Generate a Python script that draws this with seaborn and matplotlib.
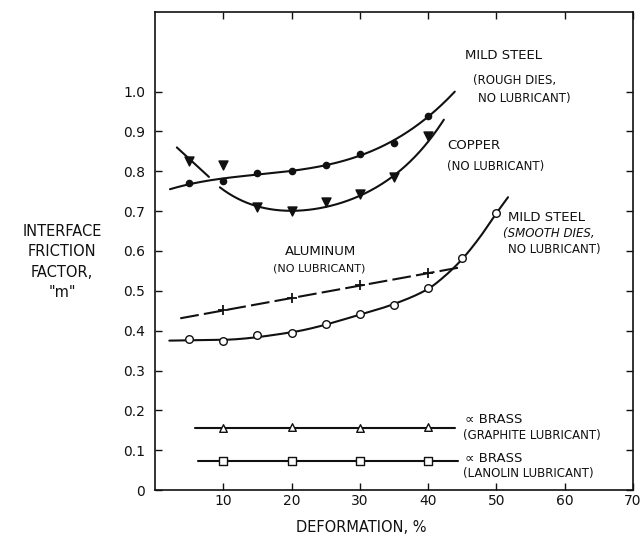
import numpy as np
import pandas as pd
import matplotlib
matplotlib.use("Agg")
import matplotlib.pyplot as plt
import seaborn as sns

# ---- measured friction factors, m, vs. deformation (%) ----
deformation = [5, 10, 15, 20, 25, 30, 35, 40]
steel_rough = [0.770, 0.776, 0.796, 0.800, 0.816, 0.844, 0.871, 0.940]
copper = [0.826, 0.816, 0.710, 0.700, 0.723, 0.743, 0.786, 0.889]

steel_smooth_x = [5, 10, 15, 20, 25, 30, 35, 40, 45, 50]
steel_smooth = [0.378, 0.375, 0.390, 0.395, 0.416, 0.441, 0.464, 0.506, 0.582, 0.695]

aluminum_x = [10, 20, 30, 40]
aluminum = [0.451, 0.481, 0.514, 0.544]

brass_x = [10, 20, 30, 40]
brass_graphite = [0.156, 0.157, 0.156, 0.157]
brass_lanolin = [0.072, 0.073, 0.073, 0.074]

# hand-faired trend lines
copper_trend_x = [9.5, 15, 20, 25, 30, 35, 40, 42.3]
copper_trend_y = [0.760, 0.712, 0.700, 0.712, 0.740, 0.785, 0.880, 0.927]
copper_early_x = [3.2, 7.9]
copper_early_y = [0.860, 0.786]
smooth_trend_x = [2.1, 10, 20, 30, 35, 40, 42.5, 45, 47.5, 50, 51.7]
smooth_trend_y = [0.375, 0.377, 0.396, 0.440, 0.467, 0.505, 0.538, 0.580, 0.633, 0.695, 0.735]

x_ticks = [10, 20, 30, 40, 50, 60, 70]
x_tick_labels = ["10", "20", "30", "40", "50", "60", "70"]
y_ticks = [0, 0.1, 0.2, 0.3, 0.4, 0.5, 0.6, 0.7, 0.8, 0.9, 1.0]
y_tick_labels = ["0", "0.1", "0.2", "0.3", "0.4", "0.5", "0.6", "0.7", "0.8", "0.9", "1.0"]

sns.set_theme(style="ticks")
plt.rcParams["font.family"] = ["DejaVu Sans"]

INK = "#111111"

fig = plt.figure(figsize=(6.43, 5.38), dpi=100)
ax = fig.add_axes([155 / 643, 48 / 538, 478 / 643, 478 / 538])


def fitted(xs, ys, deg, lo, hi, n=200):
    coef = np.polyfit(xs, ys, deg)
    grid = np.linspace(lo, hi, n)
    return grid, np.polyval(coef, grid)


def faired(xs, ys, n=300):
    """Monotone cubic (Fritsch-Carlson) curve through trend points."""
    x = np.asarray(xs, float)
    y = np.asarray(ys, float)
    h = np.diff(x)
    d = np.diff(y) / h
    m = np.zeros_like(y)
    m[0], m[-1] = d[0], d[-1]
    for k in range(1, len(x) - 1):
        if d[k - 1] * d[k] > 0:
            w1 = 2 * h[k] + h[k - 1]
            w2 = h[k] + 2 * h[k - 1]
            m[k] = (w1 + w2) / (w1 / d[k - 1] + w2 / d[k])
    grid = np.linspace(x[0], x[-1], n)
    i = np.clip(np.searchsorted(x, grid) - 1, 0, len(x) - 2)
    t = (grid - x[i]) / h[i]
    h00 = 2 * t**3 - 3 * t**2 + 1
    h10 = t**3 - 2 * t**2 + t
    h01 = -2 * t**3 + 3 * t**2
    h11 = t**3 - t**2
    out = h00 * y[i] + h10 * h[i] * m[i] + h01 * y[i + 1] + h11 * h[i] * m[i + 1]
    return grid, out


def trend(xs, ys, **kw):
    df = pd.DataFrame({"x": xs, "y": ys})
    sns.lineplot(data=df, x="x", y="y", ax=ax, color=INK, sort=False,
                 estimator=None, legend=False, **kw)


def points(xs, ys, marker, size, face, lw=1.0):
    df = pd.DataFrame({"x": xs, "y": ys})
    sns.scatterplot(data=df, x="x", y="y", ax=ax, marker=marker, s=size,
                    color=face, edgecolor=INK, linewidth=lw, zorder=4,
                    legend=False)


# mild steel, rough dies
gx, gy = fitted(deformation, steel_rough, 3, 2.2, 43.9)
trend(gx, gy, linewidth=1.5)
points(deformation, steel_rough, "o", 20, INK)

# copper
gx, gy = fitted(copper_trend_x, copper_trend_y, 4, 9.5, 42.3)
trend(gx, gy, linewidth=1.5)
trend(copper_early_x, copper_early_y, linewidth=1.5)
points(deformation, copper, "v", 42, INK)

# aluminum (dashed)
gx, gy = fitted(aluminum_x, aluminum, 1, 3.7, 44.5)
trend(gx, gy, linewidth=1.5, dashes=(9, 2.5))
points(aluminum_x, aluminum, "+", 55, INK, lw=1.3)

# mild steel, smooth dies
gx, gy = faired(smooth_trend_x, smooth_trend_y)
trend(gx, gy, linewidth=1.5)
points(steel_smooth_x, steel_smooth, "o", 30, "white")

# alpha brass, graphite and lanolin
g_level = float(np.mean(brass_graphite))
l_level = float(np.mean(brass_lanolin))
trend([5.9, 43.9], [g_level, g_level], linewidth=1.5)
trend([6.3, 44.3], [l_level, l_level], linewidth=1.5)
points(brass_x, brass_graphite, "^", 30, "white")
points(brass_x, brass_lanolin, "s", 26, "white")

# curve annotations
lab = dict(fontsize=9.5, color=INK, va="center", ha="left")
sub = dict(fontsize=8.5, color=INK, va="center", ha="left")
ax.text(45.4, 1.092, "MILD STEEL", **lab)
ax.text(46.6, 1.029, "(ROUGH DIES,", **sub)
ax.text(47.3, 0.984, "NO LUBRICANT)", **sub)
ax.text(42.8, 0.866, "COPPER", **lab)
ax.text(42.8, 0.812, "(NO LUBRICANT)", **sub)
ax.text(24.2, 0.598, "ALUMINUM", fontsize=9.5, color=INK, va="center", ha="center")
ax.text(24.0, 0.556, "(NO LUBRICANT)", fontsize=8, color=INK, va="center", ha="center")
ax.text(51.7, 0.685, "MILD STEEL", **lab)
ax.text(51.0, 0.645, "(SMOOTH DIES,", style="italic", **sub)
ax.text(51.7, 0.603, "NO LUBRICANT)", **sub)
ax.text(45.4, 0.176, "\u221d BRASS", **lab)
ax.text(45.1, 0.138, "(GRAPHITE LUBRICANT)", **sub)
ax.text(45.4, 0.080, "\u221d BRASS", **lab)
ax.text(45.1, 0.042, "(LANOLIN LUBRICANT)", **sub)

# axes, ticks and frame
ax.set_xlim(0, 70)
ax.set_ylim(0, 1.2)
ax.set_xticks(x_ticks)
ax.set_xticklabels(x_tick_labels)
ax.set_yticks(y_ticks)
ax.set_yticklabels(y_tick_labels)
ax.set_xlabel("")
ax.set_ylabel("")
ax.tick_params(axis="both", direction="in", length=5, width=1.0, colors=INK,
               top=True, right=True, labeltop=False, labelright=False,
               labelsize=10)
ax.tick_params(axis="y", pad=7)
ax.tick_params(axis="x", pad=3)
for side in ax.spines.values():
    side.set_visible(True)
    side.set_linewidth(1.2)
    side.set_color(INK)

fig.text(361 / 643, 1 - 528 / 538, "DEFORMATION, %", fontsize=10.5,
         color=INK, ha="center", va="center")
fig.text(62 / 643, 1 - 262 / 538, "INTERFACE\nFRICTION\nFACTOR,\n\"m\"",
         fontsize=10.5, color=INK, ha="center", va="center",
         multialignment="center", linespacing=1.45)

fig.savefig("out.png", dpi=100, facecolor="white")
